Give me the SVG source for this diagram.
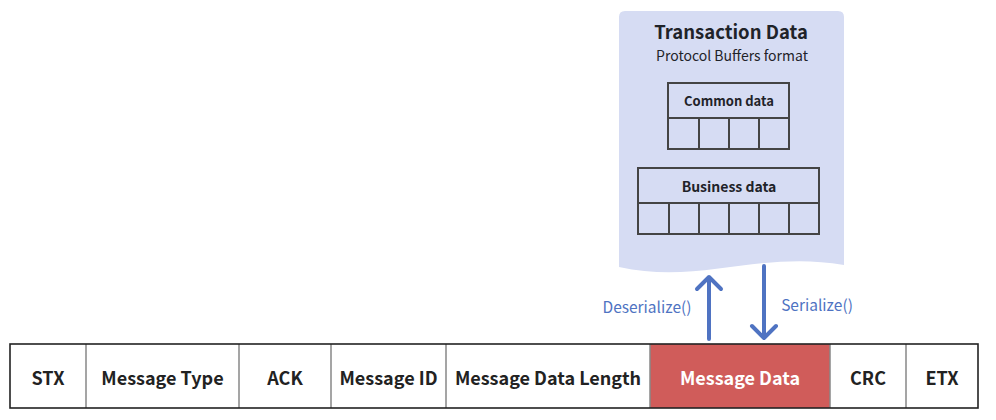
<svg xmlns="http://www.w3.org/2000/svg" width="996" height="420" viewBox="0 0 996 420">
<style>
text{font-family:"Noto Sans CJK SC","Noto Sans","Liberation Sans",sans-serif;text-anchor:middle}
.cell{font-size:18px;font-weight:bold;fill:#222}
.tbl{fill:none;stroke:#444;stroke-width:2}
.div{stroke:#888;stroke-width:1.5}
.arr{stroke:#4f73c2;stroke-width:4;fill:none;stroke-linecap:round;stroke-linejoin:round}
.lbl{font-size:15.5px;fill:#4f73c2}
</style>
<rect width="996" height="420" fill="#fff"/>
<g id="doc">
<path d="M619,17 Q619,11 625,11 L838,11 Q844,11 844,17 L844,265 C760,250 700,285 619,267 Z" fill="#d6dcf3"/>
<text x="731" y="39" style="font-size:18.5px;font-weight:bold;fill:#1f2329">Transaction Data</text>
<text x="732" y="61" style="font-size:14px;fill:#1f2329">Protocol Buffers format</text>
</g>
<g id="common">
<rect class="tbl" x="668" y="83" width="121" height="66"/>
<path class="tbl" d="M668,118H789M699,118V149M729,118V149M759,118V149"/>
<text x="729" y="106" style="font-size:13px;font-weight:bold;fill:#1f2329">Common data</text>
</g>
<g id="business">
<rect class="tbl" x="638" y="168" width="181" height="66"/>
<path class="tbl" d="M638,203H819M669,203V234M699,203V234M729,203V234M759,203V234M789,203V234"/>
<text x="729" y="192" style="font-size:14px;font-weight:bold;fill:#1f2329">Business data</text>
</g>
<g id="frame">
<rect x="650" y="344" width="180" height="64" fill="#d05c5a"/>
<path class="div" d="M86,344V408M239,344V408M331,344V408M446,344V408M650,344V408M830,344V408M906,344V408"/>
<rect x="10" y="344" width="968" height="64" fill="none" stroke="#222" stroke-width="1.6"/>
<text class="cell" x="48" y="385">STX</text>
<text class="cell" x="162.5" y="385">Message Type</text>
<text class="cell" x="285" y="385">ACK</text>
<text class="cell" x="388.5" y="385">Message ID</text>
<text class="cell" x="548" y="385">Message Data Length</text>
<text class="cell" x="740" y="385" style="fill:#fff">Message Data</text>
<text class="cell" x="868" y="385">CRC</text>
<text class="cell" x="942" y="385">ETX</text>
</g>
<g id="connectors">
<path class="arr" d="M709,339V277M697,289L709,277L721,289"/>
<path class="arr" d="M764,266V338M752,326L764,338L776,326"/>
<text class="lbl" x="647" y="313">Deserialize()</text>
<text class="lbl" x="817" y="311">Serialize()</text>
</g>
</svg>
